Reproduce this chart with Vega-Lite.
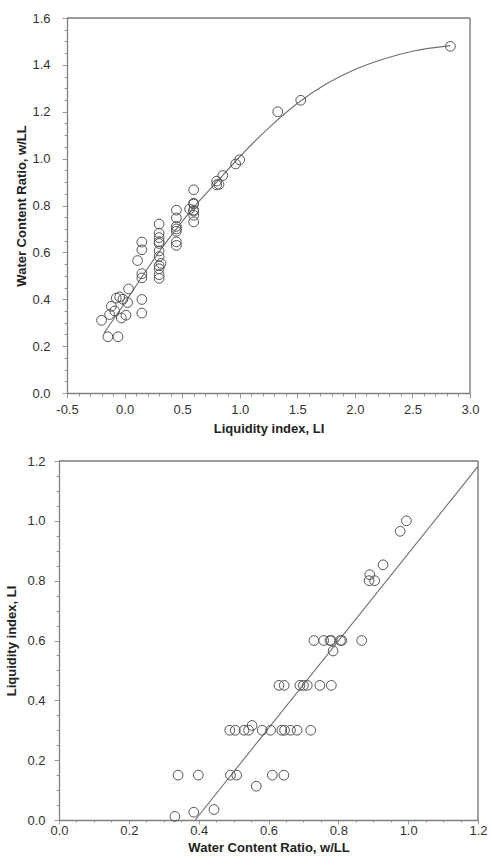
{
  "$schema": "https://vega.github.io/schema/vega-lite/v6.json",
  "padding": {"left": 5, "top": 12, "right": 2, "bottom": 5},
  "background": "white",
  "center": true,
  "bounds": "flush",
  "spacing": 68,
  "config": {
    "font": "Liberation Sans",
    "view": {"stroke": null},
    "axis": {
      "domainColor": "#808080",
      "domainWidth": 1.3,
      "tickColor": "#9a9a9a",
      "labelColor": "#333333",
      "labelFontSize": 13,
      "titleColor": "#222222",
      "titleFontSize": 13,
      "titleFontWeight": "bold",
      "grid": false,
      "labelOverlap": false,
      "labelFlush": false
    }
  },
  "datasets": {
    "pts": [
      {"LI": -0.2, "WR": 0.31},
      {"LI": -0.145, "WR": 0.24},
      {"LI": -0.13, "WR": 0.335},
      {"LI": -0.115, "WR": 0.37},
      {"LI": -0.086, "WR": 0.35},
      {"LI": -0.072, "WR": 0.405},
      {"LI": -0.057, "WR": 0.24},
      {"LI": -0.042, "WR": 0.41},
      {"LI": -0.028, "WR": 0.32},
      {"LI": -0.014, "WR": 0.4},
      {"LI": 0.012, "WR": 0.332},
      {"LI": 0.026, "WR": 0.386},
      {"LI": 0.035, "WR": 0.444},
      {"LI": 0.15, "WR": 0.341},
      {"LI": 0.15, "WR": 0.399},
      {"LI": 0.15, "WR": 0.491},
      {"LI": 0.15, "WR": 0.509},
      {"LI": 0.15, "WR": 0.611},
      {"LI": 0.15, "WR": 0.644},
      {"LI": 0.113, "WR": 0.565},
      {"LI": 0.3, "WR": 0.489},
      {"LI": 0.3, "WR": 0.505},
      {"LI": 0.3, "WR": 0.53},
      {"LI": 0.3, "WR": 0.543},
      {"LI": 0.316, "WR": 0.553},
      {"LI": 0.3, "WR": 0.582},
      {"LI": 0.3, "WR": 0.606},
      {"LI": 0.3, "WR": 0.638},
      {"LI": 0.3, "WR": 0.646},
      {"LI": 0.3, "WR": 0.663},
      {"LI": 0.3, "WR": 0.682},
      {"LI": 0.3, "WR": 0.721},
      {"LI": 0.45, "WR": 0.63},
      {"LI": 0.45, "WR": 0.645},
      {"LI": 0.45, "WR": 0.69},
      {"LI": 0.45, "WR": 0.7},
      {"LI": 0.45, "WR": 0.711},
      {"LI": 0.45, "WR": 0.747},
      {"LI": 0.45, "WR": 0.78},
      {"LI": 0.6, "WR": 0.73},
      {"LI": 0.6, "WR": 0.758},
      {"LI": 0.6, "WR": 0.776},
      {"LI": 0.6, "WR": 0.78},
      {"LI": 0.6, "WR": 0.806},
      {"LI": 0.6, "WR": 0.81},
      {"LI": 0.6, "WR": 0.867},
      {"LI": 0.565, "WR": 0.785},
      {"LI": 0.8, "WR": 0.888},
      {"LI": 0.8, "WR": 0.904},
      {"LI": 0.82, "WR": 0.89},
      {"LI": 0.853, "WR": 0.928},
      {"LI": 0.965, "WR": 0.977},
      {"LI": 1.0, "WR": 0.995},
      {"LI": 1.33, "WR": 1.2},
      {"LI": 1.53, "WR": 1.249},
      {"LI": 2.83, "WR": 1.479}
    ],
    "curve": [
      {"LI": -0.18, "WR": 0.255},
      {"LI": 0.0, "WR": 0.383},
      {"LI": 0.15, "WR": 0.495},
      {"LI": 0.3, "WR": 0.602},
      {"LI": 0.45, "WR": 0.7},
      {"LI": 0.6, "WR": 0.792},
      {"LI": 0.8, "WR": 0.9},
      {"LI": 1.0, "WR": 1.008},
      {"LI": 1.25, "WR": 1.13},
      {"LI": 1.5, "WR": 1.235},
      {"LI": 1.75, "WR": 1.318},
      {"LI": 2.0, "WR": 1.38},
      {"LI": 2.25, "WR": 1.425},
      {"LI": 2.5, "WR": 1.458},
      {"LI": 2.83, "WR": 1.482}
    ],
    "line": [
      {"WR": 0.39, "LI": 0.0},
      {"WR": 1.2, "LI": 1.182}
    ],
    "frameTop": [
      {"side": "top", "LI": -0.5, "WR": 1.6},
      {"side": "top", "LI": 3.0, "WR": 1.6},
      {"side": "right", "LI": 3.0, "WR": 0.0},
      {"side": "right", "LI": 3.0, "WR": 1.6}
    ],
    "frameBottom": [
      {"side": "top", "LI": 1.2, "WR": 0.0},
      {"side": "top", "LI": 1.2, "WR": 1.2},
      {"side": "right", "LI": 1.2, "WR": 1.2},
      {"side": "right", "LI": 0.0, "WR": 1.2}
    ]
  },
  "vconcat": [
    {
      "width": 403,
      "height": 375,
      "encoding": {
        "x": {
          "field": "LI", "type": "quantitative",
          "scale": {"domain": [-0.5, 3.0], "nice": false, "zero": false},
          "axis": {
            "title": "Liquidity index, LI",
            "values": [-0.5,-0.4,-0.3,-0.2,-0.1,0,0.1,0.2,0.3,0.4,0.5,0.6,0.7,0.8,0.9,1.0,1.1,1.2,1.3,1.4,1.5,1.6,1.7,1.8,1.9,2.0,2.1,2.2,2.3,2.4,2.5,2.6,2.7,2.8,2.9,3.0],
            "labelExpr": "abs(datum.value*2-round(datum.value*2))<0.001 ? replace(format(datum.value,'.1f'),'\u2212','-') : ''",
            "labelOverlap": false,
            "tickSize": {"condition": {"test": "abs(datum.value*2-round(datum.value*2))<0.001", "value": 5}, "value": 3},
            "labelPadding": 5,
            "titlePadding": 6
          }
        },
        "y": {
          "field": "WR", "type": "quantitative",
          "scale": {"domain": [0, 1.6], "nice": false, "zero": false},
          "axis": {
            "title": "Water Content Ratio, w/LL",
            "values": [0,0.05,0.1,0.15,0.2,0.25,0.3,0.35,0.4,0.45,0.5,0.55,0.6,0.65,0.7,0.75,0.8,0.85,0.9,0.95,1.0,1.05,1.1,1.15,1.2,1.25,1.3,1.35,1.4,1.45,1.5,1.55,1.6],
            "labelExpr": "abs(datum.value*5-round(datum.value*5))<0.001 ? format(datum.value,'.1f') : ''",
            "labelOverlap": false,
            "tickSize": {"condition": {"test": "abs(datum.value*5-round(datum.value*5))<0.001", "value": 5}, "value": 3},
            "labelPadding": 12,
            "titlePadding": 3
          }
        }
      },
      "layer": [
        {
          "data": {"name": "frameTop"},
          "mark": {"type": "line", "color": "#7a7a7a", "strokeWidth": 1.4},
          "encoding": {"detail": {"field": "side"}}
        },
        {
          "data": {"name": "curve"},
          "mark": {"type": "line", "color": "#707070", "strokeWidth": 1.1, "interpolate": "monotone"}
        },
        {
          "data": {"name": "pts"},
          "mark": {"type": "point", "shape": "circle", "filled": false, "stroke": "#555555", "strokeWidth": 1, "size": 95, "opacity": 1}
        }
      ]
    },
    {
      "width": 419,
      "height": 359,
      "encoding": {
        "x": {
          "field": "WR", "type": "quantitative",
          "scale": {"domain": [0, 1.2], "nice": false, "zero": false},
          "axis": {
            "title": "Water Content Ratio, w/LL",
            "values": [0,0.05,0.1,0.15,0.2,0.25,0.3,0.35,0.4,0.45,0.5,0.55,0.6,0.65,0.7,0.75,0.8,0.85,0.9,0.95,1.0,1.05,1.1,1.15,1.2],
            "labelExpr": "abs(datum.value*5-round(datum.value*5))<0.001 ? format(datum.value,'.1f') : ''",
            "labelOverlap": false,
            "tickSize": {"condition": {"test": "abs(datum.value*5-round(datum.value*5))<0.001", "value": 4}, "value": 2},
            "labelPadding": 0,
            "titlePadding": 4
          }
        },
        "y": {
          "field": "LI", "type": "quantitative",
          "scale": {"domain": [0, 1.2], "nice": false, "zero": false},
          "axis": {
            "title": "Liquidity index, LI",
            "values": [0,0.05,0.1,0.15,0.2,0.25,0.3,0.35,0.4,0.45,0.5,0.55,0.6,0.65,0.7,0.75,0.8,0.85,0.9,0.95,1.0,1.05,1.1,1.15,1.2],
            "labelExpr": "abs(datum.value*5-round(datum.value*5))<0.001 ? format(datum.value,'.1f') : ''",
            "labelOverlap": false,
            "tickSize": {"condition": {"test": "abs(datum.value*5-round(datum.value*5))<0.001", "value": 5}, "value": 3},
            "labelPadding": 9,
            "titlePadding": 8
          }
        }
      },
      "layer": [
        {
          "data": {"name": "frameBottom"},
          "mark": {"type": "line", "color": "#7a7a7a", "strokeWidth": 1.4},
          "encoding": {"detail": {"field": "side"}}
        },
        {
          "data": {"name": "line"},
          "mark": {"type": "line", "color": "#707070", "strokeWidth": 1.1}
        },
        {
          "data": {"name": "pts"},
          "transform": [{"filter": "datum.LI >= 0 && datum.LI <= 1.05"}],
          "mark": {"type": "point", "shape": "circle", "filled": false, "stroke": "#555555", "strokeWidth": 1, "size": 95, "opacity": 1}
        }
      ]
    }
  ]
}
